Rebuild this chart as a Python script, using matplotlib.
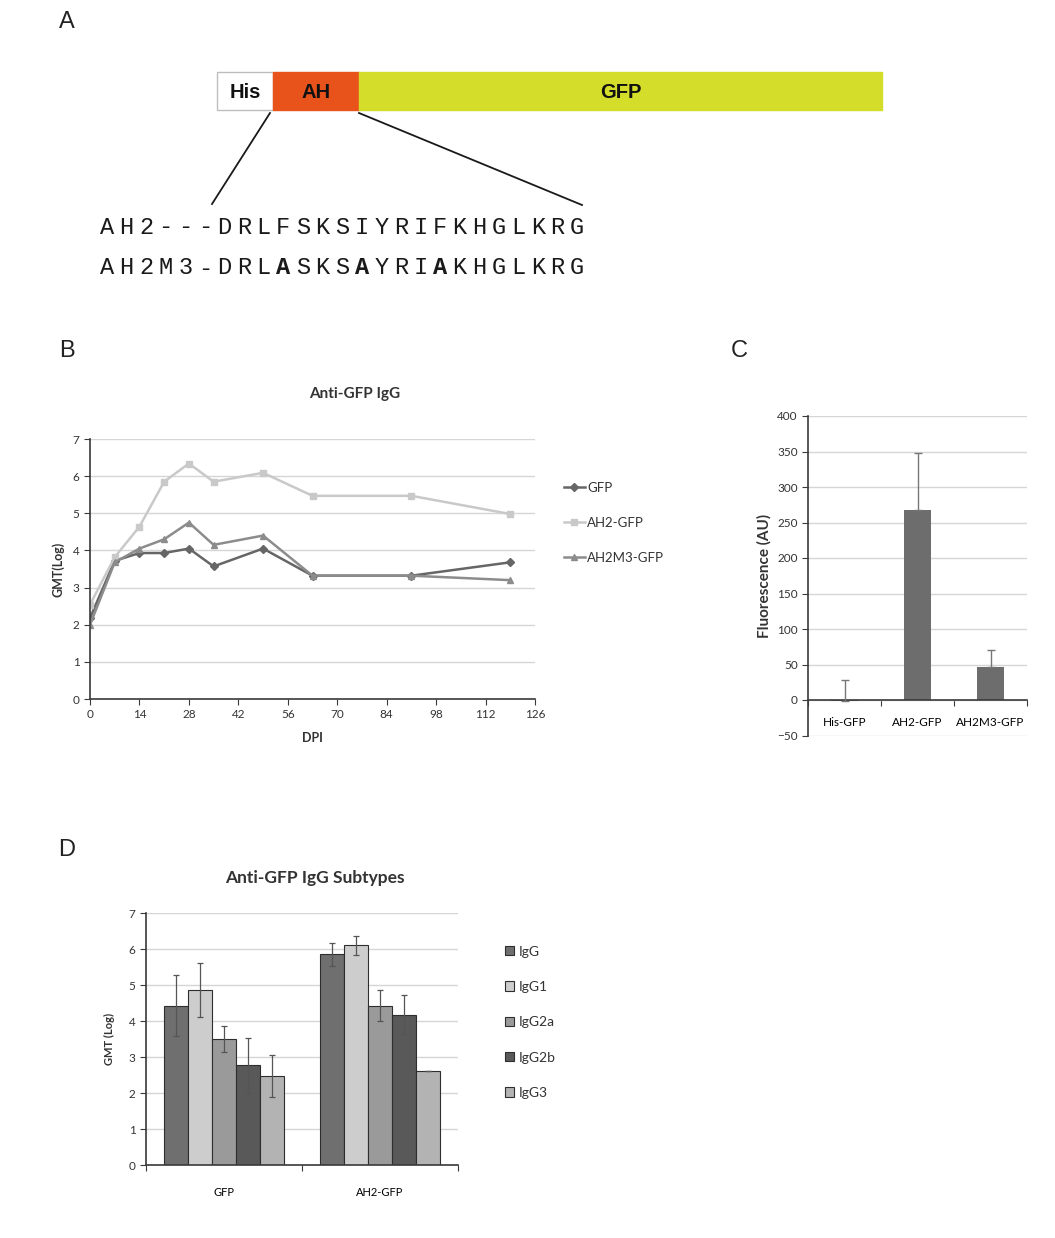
import matplotlib
matplotlib.use("Agg")
import matplotlib.pyplot as plt
from matplotlib.patches import Rectangle

W, H = 1055, 1238

# ---- panel A: construct schematic ----
domain_names = ["His", "AH", "GFP"]
domain_lengths = [56, 86, 523]
domain_colors = ["white", "#e8531c", "#d3dd2a"]
seq_wt = "AH2---DRLFSKSIYRIFKHGLKRG"
seq_mut = "AH2M3-DRLASKSAYRIAKHGLKRG"
mut_positions = [9, 13, 17]

# ---- panel B: anti-GFP IgG time course ----
days = [0, 7, 14, 21, 28, 35, 49, 63, 91, 119]
gmt_gfp = [2.18, 3.72, 3.93, 3.93, 4.05, 3.57, 4.05, 3.32, 3.32, 3.68]
gmt_ah2 = [2.54, 3.82, 4.64, 5.85, 6.34, 5.85, 6.09, 5.47, 5.47, 4.98]
gmt_ah2m3 = [2.00, 3.68, 4.05, 4.30, 4.75, 4.15, 4.40, 3.32, 3.32, 3.20]
b_xticks = [0, 14, 28, 42, 56, 70, 84, 98, 112, 126]

# ---- panel C: fluorescence ----
c_labels = ["His-GFP", "AH2-GFP", "AH2M3-GFP"]
c_values = [-1.5, 267, 47]
c_err = [30, 81, 24]

# ---- panel D: IgG subtypes ----
d_groups = ["GFP", "AH2-GFP"]
d_subtypes = ["IgG", "IgG1", "IgG2a", "IgG2b", "IgG3"]
d_gfp = [4.42, 4.87, 3.50, 2.77, 2.47]
d_gfp_err = [0.85, 0.75, 0.36, 0.77, 0.58]
d_ah2 = [5.85, 6.10, 4.42, 4.18, 2.62]
d_ah2_err = [0.33, 0.27, 0.43, 0.55, 0.0]
d_colors = ["#6f6f6f", "#cdcdcd", "#9a9a9a", "#595959", "#b3b3b3"]

plt.rcParams['font.family'] = ['Lato', 'DejaVu Sans']
fig = plt.figure(figsize=(W / 100, H / 100), dpi=100)


def rect(l, t, r, b):
    return [l / W, 1 - b / H, (r - l) / W, (b - t) / H]


def style(ax):
    for s in ["top", "right"]:
        ax.spines[s].set_visible(False)
    for s in ["left", "bottom"]:
        ax.spines[s].set_color("#3a3a3a")
        ax.spines[s].set_linewidth(1.2)
    ax.yaxis.grid(True, color="#d6d6d6", linewidth=1)
    ax.set_axisbelow(True)
    ax.tick_params(colors="#3a3a3a", labelcolor="#333333", direction="out")


# panel letters
for letter, (x, y) in zip("ABCD", [(67, 22), (67, 351), (739, 351), (67, 850)]):
    fig.text(x / W, 1 - y / H, letter, fontsize=17, family="Liberation Sans",
             ha="center", va="center", color="#222222")

# ---- A ----
axA = fig.add_axes([0, 0, 1, 1])
axA.set_xlim(0, W)
axA.set_ylim(H, 0)
axA.axis("off")
x0 = 217
for name, ln, col in zip(domain_names, domain_lengths, domain_colors):
    axA.add_patch(Rectangle((x0, 72), ln, 38, facecolor=col,
                            edgecolor="#bdbdbd" if col == "white" else col, lw=1))
    axA.text(x0 + ln / 2, 92, name, ha="center", va="center", fontsize=14.5,
             fontweight="bold", family="Liberation Sans", color="#111111")
    x0 += ln
axA.plot([270, 212], [113, 204], color="#1a1a1a", lw=1.3)
axA.plot([359, 582], [113, 205], color="#1a1a1a", lw=1.3)
step = 19.6
for row, (seq, y) in enumerate([(seq_wt, 227), (seq_mut, 268)]):
    for i, ch in enumerate(seq):
        bold = row == 1 and i in mut_positions
        axA.text(97 + step * i + step / 2, y, ch, ha="center", va="center",
                 fontsize=17, family="Liberation Mono",
                 fontweight="bold" if bold else "normal", color="#1a1a1a")

# ---- B ----
axB = fig.add_axes(rect(90, 439, 535, 699))
style(axB)
axB.plot(days, gmt_gfp, color="#666666", lw=1.8, marker="D", ms=4, label="GFP")
axB.plot(days, gmt_ah2, color="#c9c9c9", lw=1.8, marker="s", ms=5, label="AH2-GFP")
axB.plot(days, gmt_ah2m3, color="#8c8c8c", lw=1.8, marker="^", ms=5, label="AH2M3-GFP")
axB.set_xlim(0, 126)
axB.set_ylim(0, 7)
axB.set_xticks(b_xticks)
axB.set_yticks(range(0, 8))
axB.tick_params(labelsize=8.5, length=4)
axB.set_xlabel("DPI", fontsize=9, fontweight="bold", color="#333333", labelpad=8)
axB.set_ylabel("GMT(Log)", fontsize=9, fontweight="bold", color="#333333", labelpad=6)
fig.text(355 / W, 1 - 394 / H, "Anti-GFP IgG", fontsize=11, fontweight="bold",
         color="#333333", ha="center", va="center")
axB.legend(loc="upper left", bbox_to_anchor=(552 / W, 1 - 470 / H),
           bbox_transform=fig.transFigure, frameon=False, fontsize=9.5,
           labelspacing=1.75, handlelength=1.6, handletextpad=0.15,
           labelcolor="#333333")

# ---- C ----
axC = fig.add_axes(rect(808, 416, 1027, 735.5))
style(axC)
xc = list(range(len(c_labels)))
axC.bar(xc, c_values, width=0.38, color="#6d6d6d", zorder=2)
axC.errorbar(xc, c_values, yerr=[[0] * 3, c_err], fmt="none", ecolor="#777777",
             elinewidth=1, capsize=3, capthick=1, zorder=3)
axC.set_xlim(-0.5, 2.5)
axC.set_ylim(-50, 400)
axC.set_yticks(range(-50, 401, 50))
axC.spines["bottom"].set_position(("data", 0))
axC.set_xticks([-0.5, 0.5, 1.5, 2.5])
axC.set_xticklabels([])
axC.set_xticks(xc, minor=True)
axC.set_xticklabels(c_labels, minor=True)
axC.tick_params(axis="x", which="minor", length=0, labelsize=8.5, pad=12)
axC.tick_params(axis="x", which="major", length=4)
axC.tick_params(axis="y", labelsize=8.5, length=4)
axC.set_ylabel("Fluorescence (AU)", fontsize=11, fontweight="bold",
               color="#333333", labelpad=4)

# ---- D ----
axD = fig.add_axes(rect(146, 913, 458, 1165))
style(axD)
bw = 0.155
for i, (sub, col) in enumerate(zip(d_subtypes, d_colors)):
    xs = [g + (i - 2) * bw for g in range(len(d_groups))]
    vals = [d_gfp[i], d_ah2[i]]
    errs = [d_gfp_err[i], d_ah2_err[i]]
    axD.bar(xs, vals, width=bw, color=col, edgecolor="#2e2e2e", lw=0.8,
            label=sub, zorder=2)
    axD.errorbar(xs, vals, yerr=errs, fmt="none", ecolor="#555555",
                 elinewidth=0.9, capsize=2, capthick=0.9, zorder=3)
axD.set_xlim(-0.5, 1.5)
axD.set_ylim(0, 7)
axD.set_yticks(range(0, 8))
axD.set_xticks([-0.5, 0.5, 1.5])
axD.set_xticklabels([])
axD.set_xticks(range(len(d_groups)), minor=True)
axD.set_xticklabels(d_groups, minor=True)
axD.tick_params(axis="x", which="minor", length=0, labelsize=8, pad=16)
axD.tick_params(axis="x", which="major", length=4)
axD.tick_params(axis="y", labelsize=8.5, length=4)
axD.set_ylabel("GMT (Log)", fontsize=8, fontweight="bold", color="#333333", labelpad=10)
fig.text(315 / W, 1 - 878 / H, "Anti-GFP IgG Subtypes", fontsize=12.5,
         fontweight="bold", color="#333333", ha="center", va="center")
axD.legend(loc="upper left", bbox_to_anchor=(492 / W, 1 - 933 / H),
           bbox_transform=fig.transFigure, frameon=False, fontsize=10,
           labelspacing=1.68, handlelength=0.65, handleheight=0.65,
           handletextpad=0.35, labelcolor="#333333")

fig.savefig("out.png", dpi=100, facecolor="white")
